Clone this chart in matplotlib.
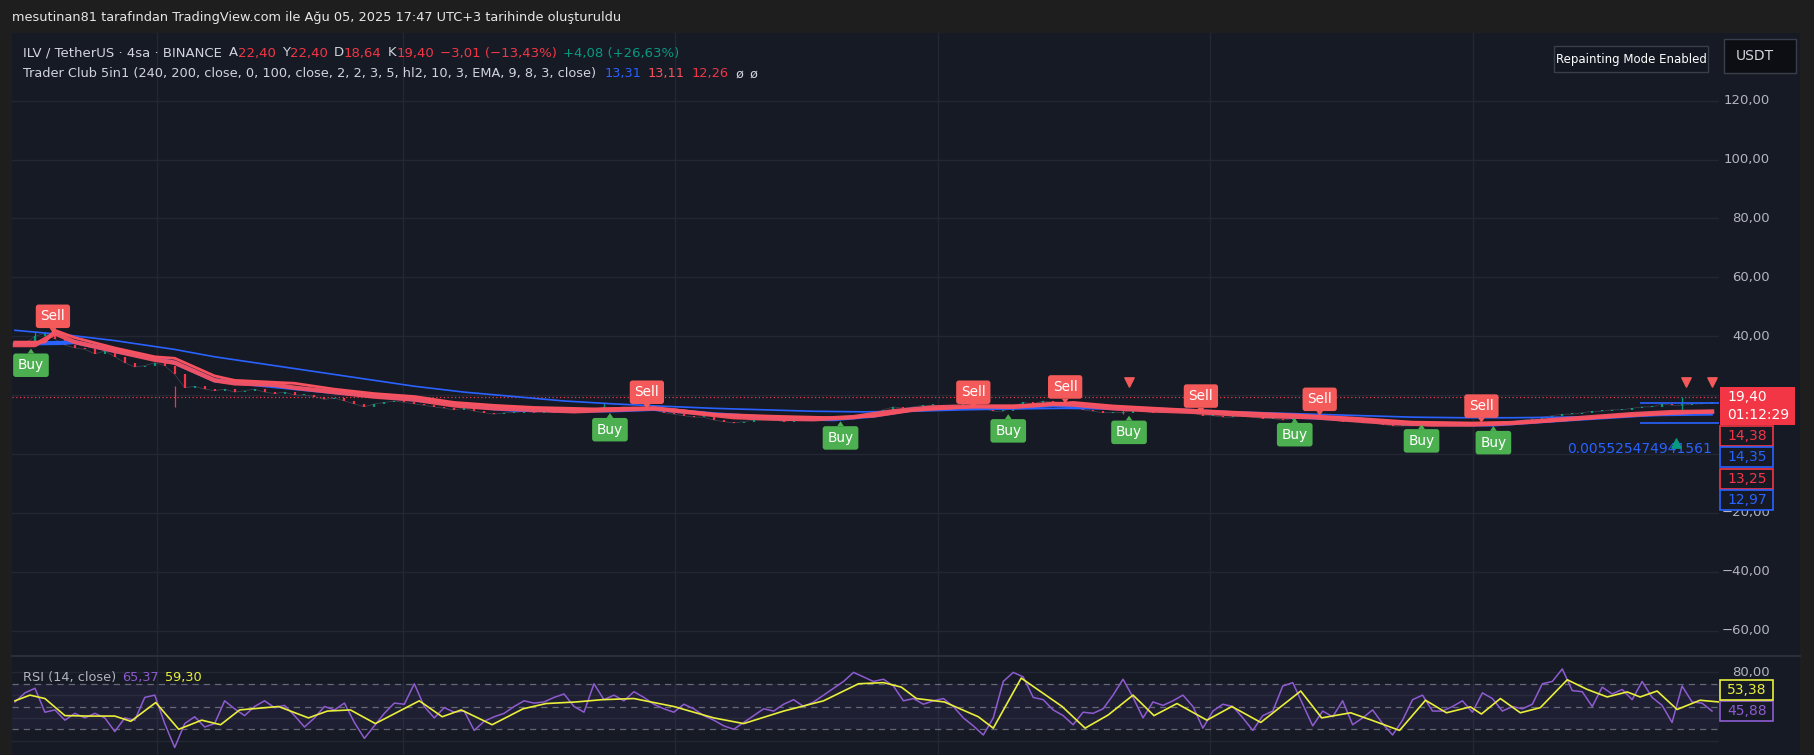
import numpy as np
import matplotlib
matplotlib.use("Agg")
import matplotlib.pyplot as plt
from matplotlib.patches import Rectangle
from matplotlib.lines import Line2D

# ---- data (bar index ~ 4h candles, coarse) ----
closes = [38, 37.5, 40, 41, 39, 37, 36, 35.5, 34, 35, 33, 31, 29.5, 30, 31, 30, 27, 22.5, 23, 22,
          21.5, 22, 21, 21.5, 22, 21, 20.5, 21, 20, 20, 19.5, 18.5, 19, 18, 17, 16, 17, 17.5, 18, 17.5,
          17, 16.5, 16, 15.5, 15, 15.5, 14.5, 14, 13.5, 14, 14, 14.5, 14, 14.5, 14, 14.5, 14, 14.5, 15, 16,
          15.5, 16, 15.5, 16, 15, 14, 13.5, 13, 12.5, 12.5, 11.5, 11, 10.5, 11, 11.5, 11.5, 11.5, 11, 11.5, 11.5,
          11.5, 11.5, 11.5, 12.5, 13, 13.5, 14, 15, 16, 15.5, 16, 16.5, 16.5, 16, 16.5, 16.5, 16, 15.5, 14.5, 14.5,
          16, 17.5, 17, 18, 17.5, 17.5, 16, 15, 14.5, 14, 14, 14, 15, 14.5, 14, 14, 14.5, 14, 14, 13,
          13, 12.5, 12.5, 13, 12.5, 12, 12, 11.5, 12, 12.5, 13, 12, 11.5, 11, 11, 10.5, 10.5, 10, 9.5, 9.5,
          9.5, 10, 10, 10, 10, 10.5, 10, 10, 9.5, 10.5, 11, 11.5, 12, 12.5, 13, 13.5, 13.5, 14, 14.5, 14.5,
          15, 15, 15.5, 16, 16, 17, 16.5, 16.5, 17, 17, 17.5]
wick_idx = [2, 16, 59, 111, 167]
wick_lo = [38, 16, 14.5, 13.5, 15]
wick_hi = [41.5, 23, 17.3, 16.5, 19.3]

# thick red MA, second red MA, blue trend MA, slow blue MA  (x = bar index)
red_x = [0, 2, 4, 6, 10, 14, 16, 18, 20, 22, 26, 28, 32, 36, 40, 44, 48, 52, 56, 60, 64, 68, 72, 76, 80,
         84, 88, 92, 96, 100, 104, 106, 110, 114, 118, 122, 126, 130, 134, 138, 142, 146, 150, 154, 158,
         162, 166, 170]
red_v = [37, 37, 41, 38, 35, 32, 31, 28, 25, 24, 23.5, 22.5, 21, 19.5, 18.5, 16.5, 15.5, 15, 14.5, 15,
         15.5, 14, 12.5, 12, 11.8, 12.5, 14.5, 15.8, 16.2, 16, 17, 16.8, 15.5, 14.8, 14.3, 13.5, 12.8, 12.5,
         11.5, 10.5, 10, 10, 10.5, 11.5, 12.5, 13.5, 14.2, 14.4]
red2_x = [0, 3, 4, 6, 10, 14, 16, 18, 20, 22, 28, 32, 36, 40, 44, 48, 52, 58, 62, 66, 70, 76, 82, 86,
          90, 96, 102, 106, 110, 116, 122, 128, 134, 140, 146, 152, 158, 164, 170]
red2_v = [38, 38, 42, 39.5, 36, 33, 32.5, 29.5, 26.5, 25, 24, 22, 20.5, 19.5, 17.5, 16.5, 15.8, 15.3,
          15.6, 15, 13.5, 12.8, 12.3, 12.8, 14.8, 16, 16.5, 17.5, 16.3, 15.2, 14.2, 13.3, 12.2, 10.8, 10.5,
          10.8, 12.2, 13.4, 14.4]
trend_x = [0, 4.5, 6, 10, 16, 20, 26, 32, 40, 48, 50, 56, 60, 64, 70, 76, 82, 86, 90, 96, 100, 104,
           110, 118, 126, 134, 140, 148, 156, 164, 170]
trend_v = [37.5, 37.7, 38, 35, 31, 25, 23, 21, 18.5, 15.5, 15, 14.8, 14.8, 15.3, 13.5, 12.2, 11.8, 13,
           15.2, 15.8, 15.8, 16.6, 15.6, 14.6, 13, 11.8, 10.3, 10, 11.8, 13.5, 14.3]
slow_x = [0, 5, 10, 16, 20, 25, 30, 35, 40, 45, 50, 55, 60, 65, 70, 75, 80, 85, 90, 95, 100, 105, 110,
          115, 120, 125, 130, 135, 140, 145, 150, 155, 160, 165, 170]
slow_v = [42, 40.5, 38.5, 35.5, 33, 30.5, 28, 25.5, 23, 21, 19.5, 18, 17, 16.2, 15.5, 15, 14.5, 14.3,
          14.5, 15, 15.3, 15.5, 15.3, 15, 14.5, 14, 13.5, 13, 12.5, 12.3, 12.3, 12.5, 12.8, 13.1, 13.3]

sell_idx = [3.8, 63.3, 96, 105.2, 118.8, 130.7, 146.9]
sell_val = [41.1, 15.3, 15.3, 17.1, 14.0, 12.9, 10.6]
buy_idx = [1.6, 59.6, 82.7, 99.5, 111.6, 128.2, 140.9, 148.1]
buy_val = [35.8, 13.9, 11.1, 13.5, 13.0, 12.2, 10.1, 9.5]
tri_dn_idx = [111.6, 167.4, 170]
tri_up_idx = [166.4]
zone_x = [162.8, 170.7]
zone_top, zone_bot = 17.3, 10.6
last_price = 19.40
side_vals = [14.38, 14.35, 13.25, 12.97]
side_cols = ["#f23645", "#2962ff", "#f23645", "#2962ff"]

rsi = [54, 62, 66, 45, 47, 38, 44, 40, 44, 40, 28, 40, 38, 58, 60, 35, 14, 35, 41, 32,
       35, 55, 48, 42, 50, 55, 49, 51, 42, 32, 40, 50, 47, 53, 36, 22, 33, 44, 53, 52,
       70, 50, 40, 49, 45, 46, 29, 37, 41, 44, 50, 55, 53, 54, 58, 61, 50, 45, 70, 56,
       60, 55, 63, 58, 52, 48, 45, 52, 48, 42, 38, 33, 30, 36, 42, 48, 46, 52, 56, 50,
       54, 60, 66, 72, 80, 76, 72, 74, 68, 55, 57, 52, 55, 57, 50, 40, 33, 25, 40, 72,
       80, 76, 58, 56, 47, 42, 34, 45, 44, 48, 60, 74, 58, 40, 54, 51, 55, 60, 50, 31,
       46, 52, 50, 40, 29, 42, 46, 68, 71, 52, 33, 46, 41, 55, 34, 40, 47, 35, 25, 38,
       56, 60, 46, 46, 50, 55, 45, 62, 57, 46, 50, 48, 52, 70, 72, 83, 64, 63, 50, 67,
       61, 65, 56, 72, 58, 51, 36, 68, 54, 53, 46]
rsi_ma_x = [0, 1.5, 3, 5, 7.5, 10, 11.6, 14.1, 16.4, 18.7, 20.6, 22.5, 26.4, 29.4, 31.3, 33.6, 36.1,
            40.5, 42.8, 44.7, 47.8, 50.9, 53.2, 56.2, 58.8, 62, 66, 70, 73, 77, 81, 84.5, 87, 88.8,
            90.3, 93.1, 96.5, 98, 100.8, 102.6, 104.9, 107.2, 109.5, 112, 114.1, 116.4, 119.4, 121.9,
            124.8, 128.8, 130.9, 133.8, 135.9, 138.7, 141.3, 143.4, 145.8, 146.9, 148.8, 150.8, 152.8,
            155.5, 157.5, 159.5, 161.5, 162.8, 164.5, 166.5, 168.8, 170.7]
rsi_ma_v = [55, 60, 57, 42, 41.6, 41.6, 37, 53.5, 30, 38, 34, 47, 50, 40, 46, 47, 35, 55, 41, 47, 34,
            48, 52.6, 54, 56, 57, 50, 40, 35, 46, 55, 70, 71, 67, 57, 54, 41, 31, 75, 64, 50, 31, 42.5,
            60, 42, 52.6, 38, 50, 36, 63.6, 40, 44.5, 38, 29, 55.5, 44.5, 49.7, 43.4, 57, 44.5, 49, 73.5,
            65, 58.4, 62.8, 58.4, 63.6, 47.4, 55.5, 54]
rsi_last, rsi_ma_last = 45.88, 53.38

month_ticks = [14.2, 38.9, 66.1, 92.5, 119.7, 146.1]
price_ticks = [120, 100, 80, 60, 40, 20, 0, -20, -40, -60]
hidden_ticks = [20, 0]  # covered by the price-scale labels in the screenshot

# ---- colours ----
BG = "#161a25"
FRAME = "#1e1e1e"
GRID = "#232733"
TXT = "#b2b5be"
UP, DN = "#089981", "#f23645"
RED = "#f7525f"
BLUE = "#2962ff"
PURPLE = "#8e5bd0"
YELLOW = "#e9ef3a"

W, H = 1814, 755
fig = plt.figure(figsize=(W / 100, H / 100), dpi=100, facecolor=FRAME)
plt.rcParams["font.family"] = ["DejaVu Sans"]


def fx(px):
    return px / W


def fy(py):
    return 1 - py / H


fig.patches.append(Rectangle((fx(12), 0), fx(1800) - fx(12), fy(33), transform=fig.transFigure,
                             facecolor=BG, edgecolor="none", zorder=-5))

ax = fig.add_axes([fx(12), fy(655), fx(1719) - fx(12), fy(33) - fy(655)])
ar = fig.add_axes([fx(12), 0, fx(1719) - fx(12), fy(657)])
for a in (ax, ar):
    a.set_facecolor(BG)
    for s in a.spines.values():
        s.set_visible(False)
    a.set_xlim(-0.3, 170.7)
    a.set_xticks(month_ticks)
    a.tick_params(length=0, labelbottom=False, labelleft=False)
    a.grid(True, color=GRID, lw=1)
    a.set_axisbelow(True)

ax.set_ylim(-68.3, 143.0)
ax.set_yticks(price_ticks)
ar.set_ylim(7.4, 93.5)
ar.set_yticks([80, 60, 40, 20])

fig.add_artist(Line2D([fx(12), fx(1800)], [fy(656), fy(656)], color="#2a2e39", lw=1.5))

# price tick labels
for v in price_ticks:
    if v in hidden_ticks:
        continue
    ax.text(1.0299, v, f"{v:.2f}".replace(".", ",").replace("-", "\u2212"), transform=ax.get_yaxis_transform(),
            ha="right", va="center", color=TXT, fontsize=9.5, clip_on=False)

# candles
xi = np.arange(len(closes))
opens = [closes[0]] + closes[:-1]
for i, (o, c) in enumerate(zip(opens, closes)):
    col = UP if c >= o else DN
    lo, hi = min(o, c), max(o, c)
    if hi - lo < 0.3:
        hi = lo + 0.3
    ax.vlines(i, lo, hi, color=col, lw=1.6, zorder=2)
ax.plot(xi, closes, color="#5d6270", lw=0.5, alpha=0.6, zorder=1.5)
for i, lo, hi in zip(wick_idx, wick_lo, wick_hi):
    ax.vlines(i, lo, hi, color=UP if i in (2, 59, 167) else DN, lw=0.9, zorder=2)

ax.axhline(last_price, color=DN, lw=0.9, ls=(0, (1, 2)), zorder=1)

ax.plot(slow_x, slow_v, color=BLUE, lw=1.2, zorder=3)
ax.plot(trend_x, trend_v, color=BLUE, lw=3, zorder=3)
ax.plot(red2_x, red2_v, color=RED, lw=2, zorder=4)
ax.plot(red_x, red_v, color=RED, lw=3.2, alpha=0.95, zorder=4)

# zone box at the right
ax.hlines([zone_top, zone_bot], zone_x[0], zone_x[1], color=BLUE, lw=1.2, zorder=3)

# buy / sell labels
for x, v in zip(sell_idx, sell_val):
    ax.annotate("Sell", (x, v), xytext=(0, 12), textcoords="offset points", ha="center", va="center",
                color="white", fontsize=9.8, zorder=6,
                bbox=dict(boxstyle="round,pad=0.35,rounding_size=0.2", fc="#f55a5a", ec="none"),
                arrowprops=dict(arrowstyle="wedge,tail_width=0.5", fc="#f55a5a", ec="none",
                                shrinkA=0, shrinkB=0))
for x, v in zip(buy_idx, buy_val):
    ax.annotate("Buy", (x, v), xytext=(0, -12), textcoords="offset points", ha="center", va="center",
                color="white", fontsize=9.8, zorder=6,
                bbox=dict(boxstyle="round,pad=0.35,rounding_size=0.2", fc="#4caf50", ec="none"),
                arrowprops=dict(arrowstyle="wedge,tail_width=0.5", fc="#4caf50", ec="none",
                                shrinkA=0, shrinkB=0))

ax.scatter(tri_dn_idx, [24.5] * len(tri_dn_idx), marker="v", s=45, color="#f55a5a", zorder=6)
ax.scatter(tri_up_idx, [3.7], marker="^", s=45, color=UP, zorder=6)
ax.text(170.0, 1.7, "0.005525474941561", color=BLUE, fontsize=10, ha="right", va="center", zorder=5)

# ---- RSI pane ----
ar.axhspan(30, 70, color="#7e57c2", alpha=0.09, lw=0)
for lv in (70, 50, 30):
    ar.axhline(lv, color="#787b86", lw=0.9, ls=(0, (5, 4)), alpha=0.8)
ar.plot(np.arange(len(rsi)), rsi, color=PURPLE, lw=1.1, zorder=3)
ar.plot(rsi_ma_x, rsi_ma_v, color=YELLOW, lw=1.2, zorder=4)
ar.text(1.0299, 80, "80,00", transform=ar.get_yaxis_transform(), ha="right", va="center",
        color=TXT, fontsize=9.5, clip_on=False)


# ---- boxes on the price scale (pixel coords, top origin) ----
def pbox(x0, y0, x1, y1, fc, ec, lw=1.0, z=5):
    fig.patches.append(Rectangle((fx(x0), fy(y1)), fx(x1) - fx(x0), (y1 - y0) / H, transform=fig.transFigure,
                                 facecolor=fc, edgecolor=ec, lw=lw, zorder=z))


def val_px(a, v):
    return H - a.transData.transform((0, v))[1]


yp = val_px(ax, last_price)
pbox(1720, yp - 10, 1795, yp + 28, DN, "none")
fig.text(fx(1727), fy(yp), f"{last_price:.2f}".replace(".", ","), color="white", fontsize=10,
         ha="left", va="center", zorder=6)
fig.text(fx(1727), fy(yp + 18), "01:12:29", color="white", fontsize=10, ha="left", va="center", zorder=6)
y = yp + 29
for v, c in zip(side_vals, side_cols):
    pbox(1720, y, 1773, y + 20, BG, c, lw=1.2)
    fig.text(fx(1727), fy(y + 10), f"{v:.2f}".replace(".", ","), color=c, fontsize=10,
             ha="left", va="center", zorder=6)
    y += 21.5

yr = val_px(ar, rsi_last)
pbox(1720, yr - 10, 1773, yr + 10, BG, PURPLE, lw=1.2)
fig.text(fx(1727), fy(yr), f"{rsi_last:.2f}".replace(".", ","), color=PURPLE, fontsize=10,
         ha="left", va="center", zorder=6)
pbox(1720, yr - 31, 1773, yr - 11, BG, YELLOW, lw=1.2)
fig.text(fx(1727), fy(yr - 21), f"{rsi_ma_last:.2f}".replace(".", ","), color=YELLOW, fontsize=10,
         ha="left", va="center", zorder=6)

# top right boxes
pbox(1554, 46, 1708, 72, "#131722", "#3a3e4a")
fig.text(fx(1631), fy(59), "Repainting Mode Enabled", color="white", fontsize=8.5, ha="center",
         va="center", zorder=6)
pbox(1724, 39, 1796, 73, "#0c0e13", "#3a3e4a")
fig.text(fx(1736), fy(56), "USDT", color="#d1d4dc", fontsize=10, ha="left", va="center", zorder=6)

# ---- header / legends ----
renderer = fig.canvas.get_renderer()


def text_row(x, ypx, pieces, size):
    for s, col, gap in pieces:
        t = fig.text(fx(x), fy(ypx), s, color=col, fontsize=size, ha="left", va="center", zorder=6)
        x += t.get_window_extent(renderer).width + gap


fig.text(fx(12), fy(18), "mesutinan81 tarafından TradingView.com ile Ağu 05, 2025 17:47 UTC+3 tarihinde oluşturuldu",
         color="#e6e6e6", fontsize=9.3, ha="left", va="center")

L = "#d1d4dc"
text_row(23, 53, [("ILV / TetherUS · 4sa · BINANCE", L, 7), ("A", L, 0), ("22,40", DN, 6),
                  ("Y", L, 0), ("22,40", DN, 6), ("D", L, 0), ("18,64", DN, 6), ("K", L, 0),
                  ("19,40", DN, 6), ("\u22123,01 (\u221213,43%)", DN, 6), ("+4,08 (+26,63%)", UP, 0)], 9.5)
text_row(23, 74, [("Trader Club 5in1 (240, 200, close, 0, 100, close, 2, 2, 3, 5, hl2, 10, 3, EMA, 9, 8, 3, close)",
                   L, 8), ("13,31", BLUE, 7), ("13,11", RED, 7), ("12,26", DN, 7), ("ø", L, 6), ("ø", L, 0)], 9.3)
text_row(23, 677, [("RSI (14, close)", TXT, 6), ("65,37", PURPLE, 6), ("59,30", YELLOW, 0)], 9.3)

fig.savefig("out.png", dpi=100, facecolor=FRAME)
